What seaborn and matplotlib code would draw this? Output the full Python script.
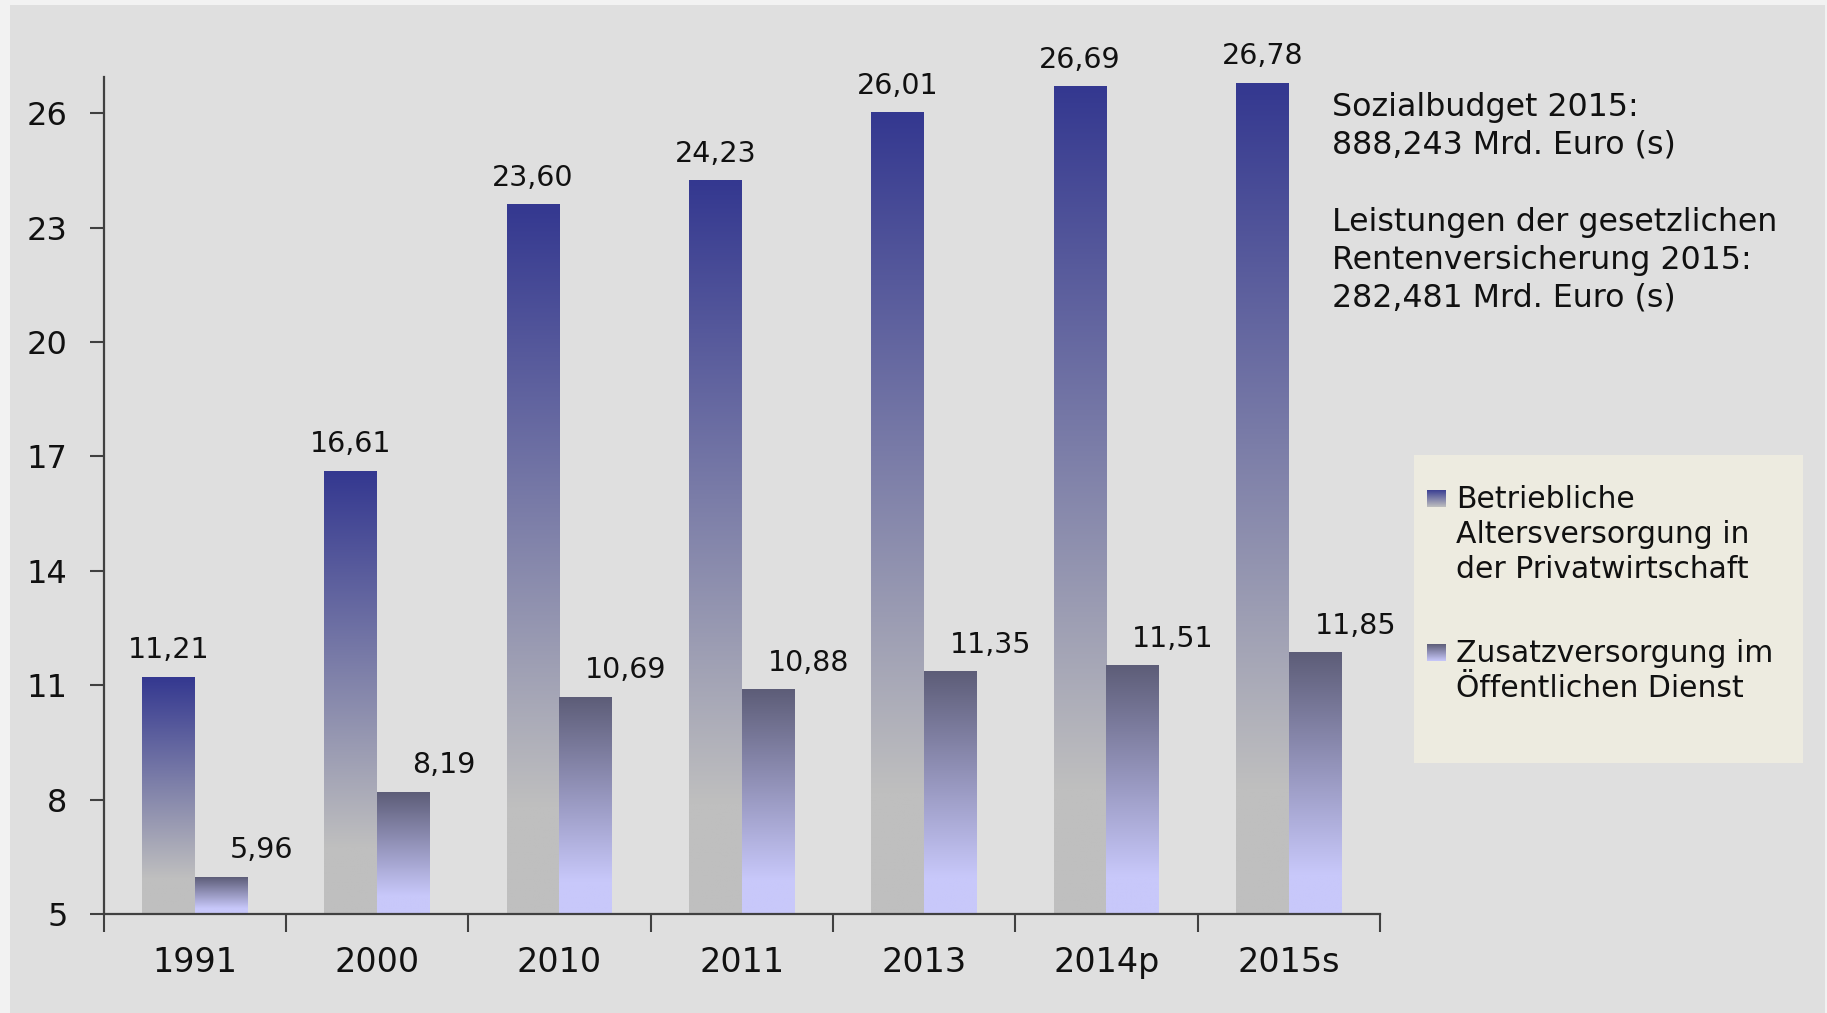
import numpy as np
import pandas as pd
import matplotlib
matplotlib.use("Agg")
import matplotlib.pyplot as plt
import seaborn as sns
from matplotlib.patches import Rectangle

# ---------------- data ----------------
years = ["1991", "2000", "2010", "2011", "2013", "2014p", "2015s"]
betrieblich = [11.21, 16.61, 23.60, 24.23, 26.01, 26.69, 26.78]
zusatz = [5.96, 8.19, 10.69, 10.88, 11.35, 11.51, 11.85]
series_names = ["Betriebliche Altersversorgung in der Privatwirtschaft",
                "Zusatzversorgung im Öffentlichen Dienst"]
legend_lines = [["Betriebliche", "Altersversorgung in", "der Privatwirtschaft"],
                ["Zusatzversorgung im", "Öffentlichen Dienst"]]
yticks = [5, 8, 11, 14, 17, 20, 23, 26]
note_lines = ["Sozialbudget 2015:", "888,243 Mrd. Euro (s)", None,
              "Leistungen der gesetzlichen", "Rentenversicherung 2015:",
              "282,481 Mrd. Euro (s)"]

df = pd.DataFrame({
    "Jahr": years * 2,
    "Wert": betrieblich + zusatz,
    "Reihe": [series_names[0]] * len(years) + [series_names[1]] * len(years),
})

# gradient colours (top, bottom)
grad = [((52, 56, 144), (191, 191, 191)),
        ((93, 93, 120), (200, 200, 250))]

W, H = 1827, 1013
sns.set_theme(style="white")
plt.rcParams['font.family'] = ['DejaVu Sans']

fig = plt.figure(figsize=(W / 100, H / 100), dpi=100, facecolor='#f2f2f2')
fig.patches.append(Rectangle((10 / W, 0), (1825 - 10) / W, (H - 5) / H,
                             transform=fig.transFigure, facecolor='#dfdfdf',
                             edgecolor='none', zorder=-10))

ax = fig.add_axes([103.5 / W, 1 - 914 / H, (1380 - 103.5) / W, (914 - 77) / H])
ax.set_facecolor('none')

sns.barplot(data=df, x="Jahr", y="Wert", hue="Reihe", order=years,
            hue_order=series_names, width=0.58, ax=ax, legend=False,
            palette=['#343890', '#5d5d78'], saturation=1, errorbar=None)

YMIN, YMAX = 5, 26.95


def gradient_img(top, bottom, n=256, stop=0.85):
    t = np.linspace(0, 1, n)
    f = np.clip(t / stop, 0, 1)[:, None]
    top = np.array(top) / 255.0
    bottom = np.array(bottom) / 255.0
    cols = top[None, :] + (bottom - top)[None, :] * f
    return cols[:, None, :]


for si, cont in enumerate(ax.containers):
    top, bottom = grad[si]
    img = gradient_img(top, bottom)
    for p in cont.patches:
        x0 = p.get_x()
        w = p.get_width()
        y1 = p.get_y() + p.get_height()
        y0 = max(YMIN, p.get_y())
        ax.imshow(img, extent=[x0, x0 + w, y0, y1], origin='upper',
                  aspect='auto', zorder=2, interpolation='bilinear')
        p.set_visible(False)

# value labels
for si, (cont, vals) in enumerate(zip(ax.containers, [betrieblich, zusatz])):
    dx = 0 if si == 0 else 40
    for p, v in zip(cont.patches, vals):
        xc = p.get_x() + p.get_width() / 2
        ax.annotate(f"{v:.2f}".replace('.', ','), xy=(xc, v),
                    xytext=(dx, 19), textcoords='offset pixels',
                    ha='center', va='baseline', fontsize=20.5, color='#111111',
                    zorder=5)

ax.set_xlim(-0.5, len(years) - 0.5)
ax.set_ylim(YMIN, YMAX)
ax.set_yticks(yticks)
ax.set_yticklabels([str(t) for t in yticks])
ax.set_xticks(range(len(years)))
ax.set_xticklabels(years)
ax.set_xticks(np.arange(-0.5, len(years), 1), minor=True)
ax.set_xlabel("")
ax.set_ylabel("")

for s in ['top', 'right']:
    ax.spines[s].set_visible(False)
for s in ['left', 'bottom']:
    ax.spines[s].set_color('#404040')
    ax.spines[s].set_linewidth(1.6)
    ax.spines[s].set_zorder(6)

ax.tick_params(axis='y', which='major', direction='out', length=10, width=1.5,
               color='#404040', labelsize=23, pad=16, labelcolor='#111111',
               left=True)
ax.tick_params(axis='x', which='major', length=0, labelsize=24, pad=23,
               labelcolor='#111111', bottom=True)
ax.tick_params(axis='x', which='minor', direction='out', length=13, width=1.5,
               color='#404040', bottom=True)

# annotation text on the right
note_baselines = [116, 153.5, None, 231, 268.5, 306]
for line, yb in zip(note_lines, note_baselines):
    if line is None:
        continue
    fig.text(1332 / W, 1 - yb / H, line, ha='left', va='baseline',
             fontsize=22.8, color='#111111')

# legend box
fig.patches.append(Rectangle((1414 / W, 1 - 763 / H), (1803 - 1414) / W,
                             (763 - 455) / H, transform=fig.transFigure,
                             facecolor='#edebe0', edgecolor='none', zorder=-5))
marker_tops = [490, 644]
legend_baselines = [[508, 543, 578], [662, 697]]
for si in range(2):
    mtop = marker_tops[si]
    max_ = fig.add_axes([1427 / W, 1 - (mtop + 17) / H, 19 / W, 17 / H])
    top, bottom = grad[si]
    max_.imshow(gradient_img(top, bottom, stop=1.0), aspect='auto',
                extent=[0, 1, 0, 1], origin='upper', interpolation='bilinear')
    max_.set_axis_off()
    for line, yb in zip(legend_lines[si], legend_baselines[si]):
        fig.text(1456 / W, 1 - yb / H, line, ha='left', va='baseline',
                 fontsize=21.5, color='#111111')

fig.savefig("out.png", dpi=100, facecolor=fig.get_facecolor())
